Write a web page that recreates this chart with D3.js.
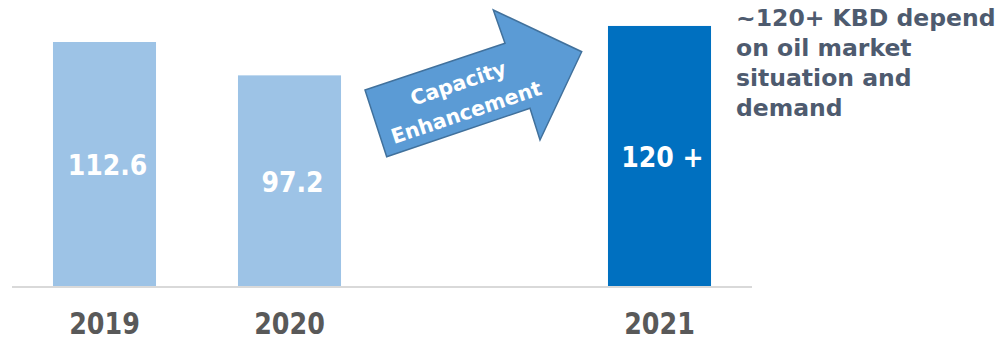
<!DOCTYPE html>
<style>
body { margin: 0; background: #fff; }
</style>
<svg width="1001" height="341" font-family="DejaVu Sans" font-weight="bold" text-anchor="middle"></svg>
<script src="https://d3js.org/d3.v7.min.js"></script>
<script>

// chart data
const categories = ['2019', '2020', 'gap', '2021'];
const tickLabels = ['2019', '2020', '', '2021'];
const values = [112.6, 97.2, null, 120];
const valueLabels = ['112.6', '97.2', '', '120 +'];
const barColors = ['#9dc3e6', '#9dc3e6', null, '#0070c0'];
const noteLines = ['~120+ KBD depend', 'on oil market', 'situation and', 'demand'];
const arrowLines = ['Capacity', 'Enhancement'];

let svg = d3.select('svg');

const x = d3.scaleBand()
	.domain(categories)
	.range([12, 752])
	.paddingInner(0.443)
	.paddingOuter(0.2215);

const y = d3.scaleLinear()
	.domain([0, 130])
	.range([286, 286 - 130 * 2.167]);

const rows = categories.map((c, i) => ({cat: c, value: values[i], label: valueLabels[i], tick: tickLabels[i], color: barColors[i]}));

// baseline
svg.append('line')
	.attr('x1', x.range()[0])
	.attr('x2', x.range()[1])
	.attr('y1', y(0) + 1)
	.attr('y2', y(0) + 1)
	.attr('stroke', '#d9d9d9')
	.attr('stroke-width', 2);

const bars = rows.filter((d) => d.value !== null);

svg.selectAll('.bar')
	.data(bars)
	.enter().append('rect')
	.attr('class', 'bar')
	.attr('x', (d) => x(d.cat))
	.attr('y', (d) => y(d.value))
	.attr('width', x.bandwidth())
	.attr('height', (d) => y(0) - y(d.value))
	.attr('fill', (d) => d.color);

svg.selectAll('.val')
	.data(bars)
	.enter().append('text')
	.attr('class', 'val')
	.attr('font-family', 'DejaVu Sans Condensed')
	.attr('font-size', 28)
	.attr('fill', '#fff')
	.attr('transform', (d) => `translate(${x(d.cat) + x.bandwidth() / 2 + 3},${(y(d.value) + y(0)) / 2 + 11})`)
	.text((d) => d.label);

// x axis labels
svg.selectAll('.tick-label')
	.data(rows)
	.enter().append('text')
	.attr('class', 'tick-label')
	.attr('font-size', 31)
	.attr('fill', '#595959')
	.attr('transform', (d) => `translate(${x(d.cat) + x.bandwidth() / 2},334) scale(0.82,1)`)
	.text((d) => d.tick);

// arrow between 2020 and 2021
const ax = x('gap') + x.bandwidth() / 2;
const arrowPts = [[-87.8, 156.7], [-109.5, 90], [30.5, 43.3], [18.8, 10], [107.2, 51.7], [65.5, 140], [55.5, 108.3]];
const arrow = svg.append('g')
	.attr('transform', `translate(${ax},0)`);
arrow.append('polygon')
	.attr('points', arrowPts.map((p) => p.join(',')).join(' '))
	.attr('fill', '#5b9bd5')
	.attr('stroke', '#41719c')
	.attr('stroke-width', 1.5);
arrow.selectAll('text')
	.data(arrowLines)
	.enter().append('text')
	.attr('font-size', 20.5)
	.attr('fill', '#fff')
	.attr('transform', (d, i) => `translate(${i ? -6 : -14},${i ? 119 : 90}) rotate(-18.5)`)
	.text((d) => d);

// side note
svg.append('text')
	.attr('text-anchor', 'start')
	.attr('font-size', 23.5)
	.attr('fill', '#4e5b6f')
	.selectAll('tspan')
	.data(noteLines)
	.enter().append('tspan')
	.attr('x', 736)
	.attr('y', (d, i) => 26 + i * 30)
	.text((d) => d);

</script>
